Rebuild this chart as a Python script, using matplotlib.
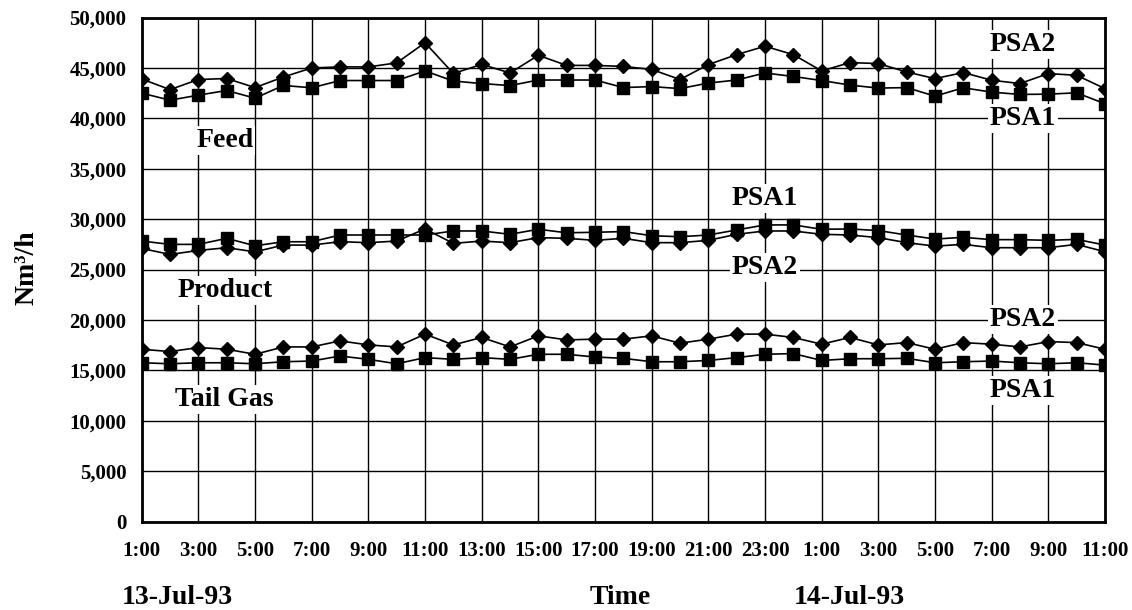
import matplotlib
matplotlib.use("Agg")
import matplotlib.pyplot as plt
from matplotlib.ticker import FuncFormatter, MultipleLocator

plt.rcParams['font.family'] = ['Liberation Serif', 'DejaVu Serif']
plt.rcParams['font.weight'] = 'bold'

# hourly readings 1:00 (13-Jul-93) ... 11:00 (14-Jul-93)
hours = ['1:00', '2:00', '3:00', '4:00', '5:00', '6:00', '7:00', '8:00', '9:00', '10:00',
         '11:00', '12:00', '13:00', '14:00', '15:00', '16:00', '17:00', '18:00', '19:00',
         '20:00', '21:00', '22:00', '23:00', '0:00', '1:00', '2:00', '3:00', '4:00',
         '5:00', '6:00', '7:00', '8:00', '9:00', '10:00', '11:00']
tick_labels = ['1:00', '3:00', '5:00', '7:00', '9:00', '11:00', '13:00', '15:00', '17:00',
               '19:00', '21:00', '23:00', '1:00', '3:00', '5:00', '7:00', '9:00', '11:00']

feed_psa2 = [43900, 42850, 43850, 43950, 43050, 44100, 45000, 45100, 45100, 45500,
             47500, 44450, 45350, 44500, 46250, 45250, 45250, 45150, 44850, 43850,
             45330, 46320, 47150, 46320, 44700, 45530, 45430, 44600, 43940, 44540,
             43780, 43450, 44440, 44270, 42950]
feed_psa1 = [42500, 41800, 42300, 42760, 42000, 43260, 43030, 43750, 43750, 43750,
             44700, 43700, 43450, 43250, 43800, 43800, 43800, 43050, 43150, 42950,
             43500, 43800, 44500, 44150, 43750, 43300, 43000, 43050, 42200, 43030,
             42600, 42370, 42400, 42530, 41450]
product_psa1 = [27830, 27500, 27500, 28100, 27360, 27760, 27760, 28430, 28430, 28430,
                28430, 28830, 28830, 28500, 29000, 28650, 28700, 28770, 28360, 28260,
                28430, 28930, 29430, 29430, 29000, 29030, 28870, 28430, 28030, 28200,
                27970, 27970, 27900, 28000, 27430]
product_psa2 = [27100, 26500, 26900, 27170, 26760, 27430, 27430, 27770, 27670, 27830,
                29030, 27600, 27830, 27670, 28170, 28100, 27900, 28100, 27670, 27670,
                27900, 28500, 28830, 28830, 28500, 28430, 28170, 27670, 27330, 27500,
                27170, 27170, 27170, 27500, 26770]
tail_psa2 = [17100, 16870, 17270, 17100, 16600, 17330, 17330, 17930, 17530, 17330,
             18600, 17530, 18270, 17330, 18430, 18030, 18100, 18100, 18430, 17700,
             18100, 18600, 18600, 18270, 17600, 18270, 17530, 17760, 17100, 17760,
             17600, 17330, 17860, 17760, 17100]
tail_psa1 = [15760, 15660, 15760, 15760, 15660, 15860, 15930, 16430, 16100, 15660,
             16270, 16100, 16270, 16100, 16600, 16600, 16330, 16200, 15860, 15860,
             15990, 16270, 16600, 16670, 15990, 16160, 16160, 16200, 15760, 15860,
             15930, 15760, 15660, 15760, 15530]

x = list(range(len(hours)))

fig = plt.figure(figsize=(11.32, 6.10), dpi=100)
ax = fig.add_axes([0.1252, 0.1448, 0.8509, 0.8265])

lw = 1.2
for ser in (feed_psa1, product_psa1, tail_psa1):
    ax.plot(x, ser, color='black', lw=lw, marker='s', ms=8, zorder=3)
for ser in (feed_psa2, product_psa2, tail_psa2):
    ax.plot(x, ser, color='black', lw=lw, marker='D', ms=7, zorder=3)

ax.set_xlim(0, len(hours) - 1)
ax.set_ylim(0, 50000)
ax.yaxis.set_major_locator(MultipleLocator(5000))
ax.yaxis.set_major_formatter(FuncFormatter(lambda v, p: f"{int(v):,}"))
ax.set_xticks(x[::2])
ax.set_xticklabels(tick_labels)
ax.grid(True, color='black', lw=1.0, zorder=1)
ax.set_axisbelow(True)
for s in ax.spines.values():
    s.set_linewidth(2.0)
ax.tick_params(axis='both', length=0, labelsize=15)
ax.tick_params(axis='y', pad=11)
ax.tick_params(axis='x', pad=14)
for t in ax.get_xticklabels() + ax.get_yticklabels():
    t.set_fontweight('bold')

box = dict(facecolor='white', edgecolor='none', pad=1.5)
lab = dict(fontsize=20, fontweight='bold', ha='center', va='center', bbox=box, zorder=4)
ax.text(31.1, 47290, 'PSA2', **lab)
ax.text(31.1, 39950, 'PSA1', **lab)
ax.text(2.93, 37830, 'Feed', **lab)
ax.text(22.0, 32070, 'PSA1', **lab)
ax.text(22.0, 25250, 'PSA2', **lab)
ax.text(2.93, 22970, 'Product', **lab)
ax.text(31.1, 20090, 'PSA2', **lab)
ax.text(31.1, 13050, 'PSA1', **lab)
ax.text(2.93, 12160, 'Tail Gas', **lab)

fig.text(27 / 1132, 1 - 268 / 610, 'Nm³/h', rotation=90, fontsize=20,
         fontweight='bold', ha='center', va='center')
fig.text(122 / 1132, 1 - 597 / 610, '13-Jul-93', fontsize=20, fontweight='bold',
         ha='left', va='center')
fig.text(620 / 1132, 1 - 597 / 610, 'Time', fontsize=20, fontweight='bold',
         ha='center', va='center')
fig.text(794 / 1132, 1 - 597 / 610, '14-Jul-93', fontsize=20, fontweight='bold',
         ha='left', va='center')

fig.savefig('out.png', dpi=100)
